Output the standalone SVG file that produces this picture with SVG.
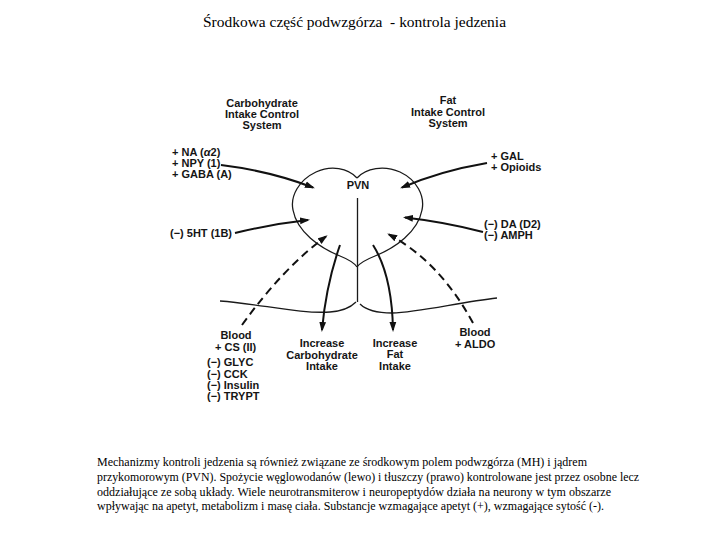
<svg xmlns="http://www.w3.org/2000/svg" width="720" height="540" viewBox="0 0 720 540">
<style>
.lbl{font-family:"Liberation Sans",Arial,Helvetica,sans-serif;font-size:11px;font-weight:bold;fill:#151515}
.mid{text-anchor:middle}
.ser{font-family:"Liberation Serif","Times New Roman",serif;fill:#000}
.cap{font-size:12px}
.outline{fill:none;stroke:#1a1a1a;stroke-width:1.3}
.arr{fill:none;stroke:#111;stroke-width:2;marker-end:url(#ah)}
.dash{stroke-dasharray:8 5}
</style>
<defs>
<marker id="ah" markerUnits="userSpaceOnUse" markerWidth="12" markerHeight="8" refX="8" refY="4" orient="auto">
<path d="M0,0.6 L10,4 L0,7.4 z" fill="#111"/>
</marker>
</defs>
<rect width="720" height="540" fill="#fff"/>

<g id="title">
<text class="ser" x="203" y="27" font-size="14" textLength="303" lengthAdjust="spacingAndGlyphs" xml:space="preserve">Środkowa część podwzgórza  - kontrola jedzenia</text>
</g>

<g id="pvn">
<path class="outline" d="M357,178 C348,168 331,165 316,172 C299,180 290,196 293,210 C297,232 320,248 340,256 C350,260 355,264 357,267"/>
<path class="outline" d="M357,178 C366,168 384,165 400,172 C417,180 425,196 422,210 C418,232 395,248 375,256 C365,260 359,264 357,267"/>
<line class="outline" x1="357.5" y1="198" x2="357.5" y2="302"/>
<path class="outline" d="M220,301 C260,304 300,314 330,312 C345,311 352,306 356,302"/>
<path class="outline" d="M360,304 C366,310 378,313 392,313 C420,312 460,302 497,298"/>
<text class="lbl mid" x="358" y="189">PVN</text>
</g>

<g id="carb-system">
<text class="lbl mid" x="262" y="107">Carbohydrate</text>
<text class="lbl mid" x="262" y="118">Intake Control</text>
<text class="lbl mid" x="262" y="129">System</text>
</g>

<g id="fat-system">
<text class="lbl mid" x="448" y="104">Fat</text>
<text class="lbl mid" x="448" y="115.5">Intake Control</text>
<text class="lbl mid" x="448" y="126.5">System</text>
</g>

<g id="carb-stimulators">
<text class="lbl" x="172" y="156">+ NA (<tspan font-style="italic">α</tspan>2)</text>
<text class="lbl" x="172" y="167">+ NPY (1)</text>
<text class="lbl" x="172" y="178">+ GABA (A)</text>
</g>

<g id="serotonin">
<text class="lbl" x="170" y="237">(−) 5HT (1B)</text>
</g>

<g id="fat-stimulators">
<text class="lbl" x="491" y="160">+ GAL</text>
<text class="lbl" x="491" y="171">+ Opioids</text>
</g>

<g id="dopamine">
<text class="lbl" x="484" y="228">(−) DA (D2)</text>
<text class="lbl" x="484" y="239">(−) AMPH</text>
</g>

<g id="blood-left">
<text class="lbl mid" x="236" y="339">Blood</text>
<text class="lbl" x="215" y="351">+ CS (II)</text>
<text class="lbl" x="207" y="366">(−) GLYC</text>
<text class="lbl" x="207" y="377.5">(−) CCK</text>
<text class="lbl" x="207" y="389">(−) Insulin</text>
<text class="lbl" x="207" y="400">(−) TRYPT</text>
</g>

<g id="increase-carb">
<text class="lbl mid" x="322" y="347">Increase</text>
<text class="lbl mid" x="322" y="359">Carbohydrate</text>
<text class="lbl mid" x="322" y="370">Intake</text>
</g>

<g id="increase-fat">
<text class="lbl mid" x="395" y="347">Increase</text>
<text class="lbl mid" x="395" y="358">Fat</text>
<text class="lbl mid" x="395" y="369.5">Intake</text>
</g>

<g id="blood-right">
<text class="lbl mid" x="475" y="336">Blood</text>
<text class="lbl" x="455" y="347.5">+ ALDO</text>
</g>

<g id="connectors">
<path class="arr" d="M221,165 Q270,171 313,187.5"/>
<path class="arr" d="M235,233 Q272,224 308,220"/>
<path class="arr" d="M487,163 Q440,171 402,187.5"/>
<path class="arr" d="M483,232 Q445,222 405,217.5"/>
<path class="arr dash" d="M242,325 Q283,268 326,236.5"/>
<path class="arr dash" d="M473,323 Q440,262 389,234.5"/>
<path class="arr" d="M340,245 Q326,285 322,330"/>
<path class="arr" d="M373,245 Q392,275 393,330"/>
</g>

<g id="caption" class="ser cap">
<text x="97" y="466" textLength="490" lengthAdjust="spacingAndGlyphs">Mechanizmy kontroli jedzenia są również związane ze środkowym polem podwzgórza (MH) i jądrem</text>
<text x="97" y="481" textLength="542" lengthAdjust="spacingAndGlyphs">przykomorowym (PVN). Spożycie węglowodanów (lewo) i tłuszczy (prawo) kontrolowane jest przez osobne lecz</text>
<text x="97" y="496" textLength="514" lengthAdjust="spacingAndGlyphs">oddziałujące ze sobą układy. Wiele  neurotransmiterow i neuropeptydów działa na neurony w tym obszarze</text>
<text x="97" y="509.5" textLength="507" lengthAdjust="spacingAndGlyphs">wpływając na apetyt, metabolizm i masę ciała. Substancje wzmagające apetyt (+), wzmagające sytość (-).</text>
</g>
</svg>
